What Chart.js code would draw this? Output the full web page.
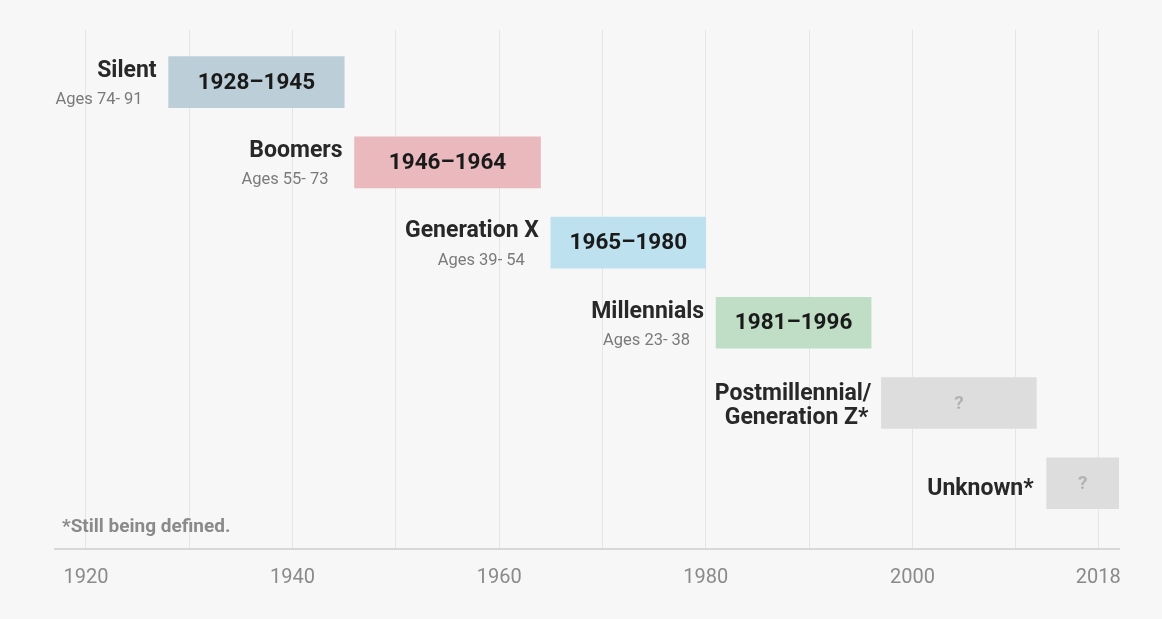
<!DOCTYPE html>
<html lang="en">
<head>
    <meta charset="UTF-8">
    <title>Generations timeline</title>
    <script src="https://cdn.jsdelivr.net/npm/chart.js"></script>
    <style>
        html, body {
            margin: 0;
            padding: 0;
            background: #ffffff;
        }
        .chart-box {
            position: absolute;
            left: 0;
            top: 0;
            width: 1162px;
            height: 619px;
            background: #f7f7f7;
        }
    </style>
</head>
<body>
    <div class="chart-box">
        <canvas id="genChart"></canvas>
    </div>

    <script>
        // Generations and the birth years they cover
        const generations = ['Silent', 'Boomers', 'Generation X', 'Millennials', 'Postmillennial/\nGeneration Z*', 'Unknown*'];
        const startYears = [1928, 1946, 1965, 1981, 1997, 2013];
        const endYears   = [1945, 1964, 1980, 1996, 2012, 2020];
        const ageRanges  = ['Ages 74- 91', 'Ages 55- 73', 'Ages 39- 54', 'Ages 23- 38', '', ''];
        const barLabels  = ['1928\u20131945', '1946\u20131964', '1965\u20131980', '1981\u20131996', '?', '?'];
        const barColors  = ['#bccfd8', '#e9b9be', '#bee1ef', '#c0ddc5', '#dddddd', '#dddddd'];

        // x axis: grid every decade plus the current year, labels every 20 years
        const gridYears  = [1920, 1930, 1940, 1950, 1960, 1970, 1980, 1990, 2000, 2010, 2018];
        const tickYears  = [1920, 1940, 1960, 1980, 2000, 2018];
        const footnote   = '*Still being defined.';

        const FONT = 'Roboto, "Noto Sans", sans-serif';

        // names, ages and year ranges written next to / inside each bar
        const barText = {
            id: 'barText',
            afterDatasetsDraw(chart) {
                const ctx = chart.ctx;
                const meta = chart.getDatasetMeta(0);
                ctx.save();
                ctx.textBaseline = 'middle';
                meta.data.forEach((bar, i) => {
                    const left = Math.min(bar.x, bar.base);
                    const right = Math.max(bar.x, bar.base);
                    const cy = bar.y;

                    // text inside the bar
                    ctx.textAlign = 'center';
                    if (barLabels[i] === '?') {
                        ctx.fillStyle = '#b2b2b2';
                        ctx.font = 'bold 19px ' + FONT;
                    } else {
                        ctx.fillStyle = '#1a1a1a';
                        ctx.font = 'bold 22.5px ' + FONT;
                    }
                    ctx.fillText(barLabels[i], (left + right) / 2, cy + 1);

                    // generation name on the left
                    ctx.textAlign = 'right';
                    ctx.fillStyle = '#282828';
                    ctx.font = 'bold 23px ' + FONT;
                    const lines = generations[i].split('\n');
                    if (lines.length > 1) {
                        ctx.fillText(lines[0], left - 10, cy - 9);
                        ctx.fillText(lines[1], left - 13, cy + 15);
                    } else if (ageRanges[i]) {
                        ctx.fillText(lines[0], left - 12, cy - 11);
                    } else {
                        ctx.fillText(lines[0], left - 13, cy + 6);
                    }

                    if (ageRanges[i]) {
                        ctx.fillStyle = '#7a7a7a';
                        ctx.font = '16.5px ' + FONT;
                        ctx.fillText(ageRanges[i], left - 26, cy + 18);
                    }
                });

                // footnote in the bottom-left corner of the plot
                ctx.textAlign = 'left';
                ctx.fillStyle = '#8a8a8a';
                ctx.font = 'bold 19px ' + FONT;
                ctx.fillText(footnote, chart.chartArea.left + 7, 527);
                ctx.restore();
            }
        };

        const ctx = document.getElementById('genChart').getContext('2d');
        const genChart = new Chart(ctx, {
            type: 'bar',
            data: {
                datasets: [{
                    data: generations.map((g, i) => ({ x: [startYears[i], endYears[i]], y: i })),
                    backgroundColor: barColors,
                    borderWidth: 0,
                    barThickness: 51
                }]
            },
            options: {
                indexAxis: 'y',
                responsive: true,
                maintainAspectRatio: false,
                animation: false,
                layout: {
                    padding: { left: 55, right: 43, top: 30, bottom: 30 }
                },
                plugins: {
                    legend: { display: false },
                    tooltip: { enabled: false }
                },
                scales: {
                    x: {
                        type: 'linear',
                        min: 1917,
                        max: 2020,
                        afterBuildTicks(scale) {
                            scale.ticks = gridYears.map(v => ({ value: v }));
                        },
                        afterFit(scale) {
                            scale.height = 40;
                        },
                        grid: {
                            color: '#e5e5e5',
                            lineWidth: 1,
                            drawTicks: false
                        },
                        border: {
                            color: '#d8d8d8',
                            width: 2
                        },
                        ticks: {
                            autoSkip: false,
                            maxRotation: 0,
                            padding: 17,
                            color: '#8a8a8a',
                            font: { family: FONT, size: 20 },
                            callback: v => tickYears.includes(v) ? String(v) : ''
                        }
                    },
                    y: {
                        type: 'linear',
                        reverse: true,
                        offset: false,
                        min: -0.65,
                        max: 5.82,
                        display: false
                    }
                }
            },
            plugins: [barText]
        });
    </script>
</body>
</html>
